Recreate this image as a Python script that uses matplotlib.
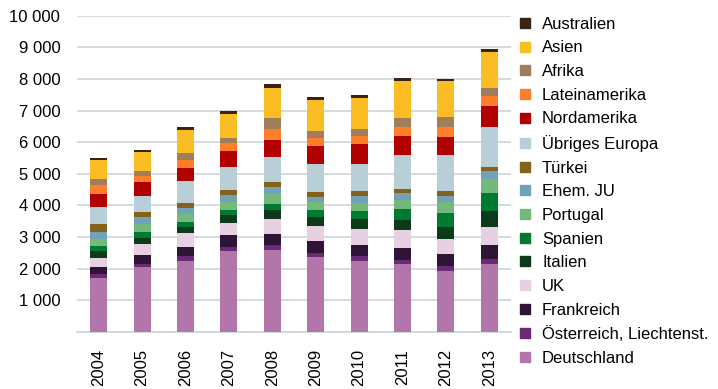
import matplotlib
matplotlib.use("Agg")
import matplotlib.pyplot as plt
from matplotlib.lines import Line2D
import numpy as np

plt.rcParams['font.family'] = ['Liberation Sans', 'DejaVu Sans']

years = ["2004", "2005", "2006", "2007", "2008", "2009", "2010", "2011", "2012", "2013"]

# series listed bottom -> top
series_names = ["Deutschland", "Österreich, Liechtenst.", "Frankreich", "UK", "Italien",
                "Spanien", "Portugal", "Ehem. JU", "Türkei", "Übriges Europa",
                "Nordamerika", "Lateinamerika", "Afrika", "Asien", "Australien"]

deutschland = [1700, 2040, 2230, 2550, 2580, 2360, 2260, 2140, 1920, 2140]
oesterreich = [120, 100, 160, 130, 160, 130, 130, 130, 160, 160]
frankreich = [250, 280, 290, 380, 350, 380, 350, 380, 380, 440]
uk = [280, 350, 440, 380, 480, 480, 510, 570, 470, 570]
italien = [220, 190, 190, 250, 290, 290, 320, 320, 380, 510]
spanien = [160, 190, 160, 160, 190, 220, 250, 350, 440, 570]
portugal = [200, 250, 250, 250, 350, 250, 250, 280, 350, 440]
ehem_ju = [240, 220, 190, 230, 190, 160, 220, 220, 190, 250]
tuerkei = [250, 160, 160, 150, 160, 160, 160, 130, 160, 130]
uebriges_europa = [540, 510, 700, 730, 790, 890, 860, 1080, 1140, 1270]
nordamerika = [410, 440, 410, 510, 540, 570, 630, 600, 570, 660]
lateinamerika = [280, 190, 250, 260, 350, 250, 250, 290, 320, 320]
afrika = [190, 160, 220, 150, 350, 220, 220, 280, 320, 250]
asien = [600, 600, 740, 760, 950, 980, 980, 1170, 1140, 1140]
australien = [60, 60, 95, 95, 95, 95, 95, 95, 60, 95]

values = [deutschland, oesterreich, frankreich, uk, italien, spanien, portugal, ehem_ju,
          tuerkei, uebriges_europa, nordamerika, lateinamerika, afrika, asien, australien]

colors = ["#B376AB", "#6A2A76", "#2E1538", "#E6D0E2", "#0C3A1A", "#007A30", "#72B97A",
          "#72A2B7", "#84621C", "#B8CFD7", "#B00000", "#FD7F2A", "#A07E5B", "#FBBD24", "#3A2214"]

yticks = [0, 1000, 2000, 3000, 4000, 5000, 6000, 7000, 8000, 9000, 10000]
ytick_labels = ["", "1 000", "2 000", "3 000", "4 000", "5 000", "6 000", "7 000", "8 000", "9 000", "10 000"]

grid_color = "#C9D6DC"

fig = plt.figure(figsize=(7.18, 3.89), dpi=100)
ax = fig.add_axes([77/718, 1-332/389, (511-77)/718, (332-15.7)/389])

x = np.arange(len(years))
bottom = np.zeros(len(years))
for name, vals, c in zip(series_names, values, colors):
    ax.bar(x, vals, width=0.39, bottom=bottom, color=c, label=name, zorder=3)
    bottom += np.array(vals)

ax.set_xlim(-0.5, len(years) - 0.5)
ax.set_ylim(0, 10000)
ax.set_yticks(yticks)
ax.set_yticklabels(ytick_labels, fontsize=12)
ax.set_xticks(x)
ax.set_xticklabels(years, rotation=90, fontsize=12)
ax.tick_params(axis='both', length=0)
ax.tick_params(axis='y', pad=12)
ax.tick_params(axis='x', pad=12)
ax.yaxis.grid(True, color=grid_color, linewidth=1.2, zorder=0)
for s in ['top', 'right', 'left']:
    ax.spines[s].set_visible(False)
ax.spines['bottom'].set_color(grid_color)
ax.spines['bottom'].set_linewidth(1.2)

handles = [Line2D([0], [0], marker='s', linestyle='none', markersize=6.5,
                  markerfacecolor=c, markeredgecolor=c) for c in colors]
handles = handles[::-1]
labels = series_names[::-1]
fig.legend(handles, labels, loc='upper left', bbox_to_anchor=(512/718, 1 - 10/389),
           frameon=False, fontsize=12, handlelength=0.8, handletextpad=0.6,
           labelspacing=0.52, borderaxespad=0)

fig.savefig("out.png", dpi=100)
